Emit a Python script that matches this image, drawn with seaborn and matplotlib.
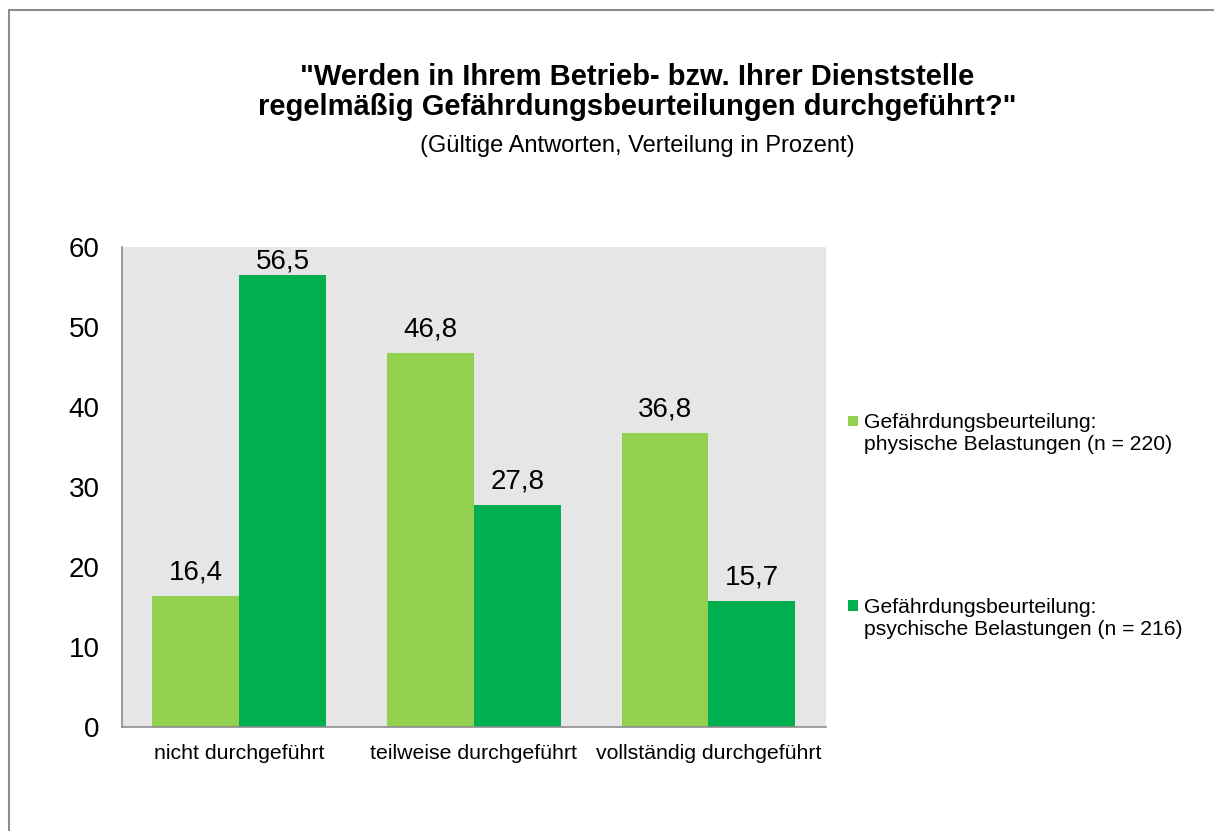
import matplotlib

matplotlib.use("Agg")
import matplotlib.pyplot as plt
import pandas as pd
import seaborn as sns
from matplotlib.legend_handler import HandlerPatch
from matplotlib.lines import Line2D
from matplotlib.patches import Patch, Rectangle

categories = ["nicht durchgeführt", "teilweise durchgeführt", "vollständig durchgeführt"]
series_names = [
    "Gefährdungsbeurteilung:\nphysische Belastungen (n = 220)",
    "Gefährdungsbeurteilung:\npsychische Belastungen (n = 216)",
]
physisch = [16.4, 46.8, 36.8]
psychisch = [56.5, 27.8, 15.7]
y_ticks = [0, 10, 20, 30, 40, 50, 60]

COLORS = ["#92d050", "#00b050"]
BG = "#e6e6e6"
FRAME = "#8c8c8c"
Y_MAX = 60

sns.set_theme(style="white")
plt.rcParams["font.family"] = ["Liberation Sans", "DejaVu Sans"]
plt.rcParams["text.color"] = "black"
plt.rcParams["xtick.color"] = "black"
plt.rcParams["ytick.color"] = "black"


class TopSquare(HandlerPatch):
    # square sits next to the first line of a two-line label
    def create_artists(self, legend, orig_handle, xdescent, ydescent,
                       width, height, fontsize, trans):
        size = width
        y = -ydescent + height / 2 + 0.6 * fontsize - size / 2
        p = Rectangle((-xdescent, y), size, size,
                      facecolor=orig_handle.get_facecolor(),
                      edgecolor="none", transform=trans)
        return [p]


df = pd.DataFrame({
    "Kategorie": categories * 2,
    "Serie": [series_names[0]] * 3 + [series_names[1]] * 3,
    "Wert": physisch + psychisch,
})

fig = plt.figure(figsize=(12.14, 8.31), dpi=100)
ax = fig.add_axes([0.1005, 0.1252, 0.5795, 0.5776])

sns.barplot(
    data=df, x="Kategorie", y="Wert", hue="Serie",
    palette=COLORS, saturation=1, width=0.74, legend=False, ax=ax,
    edgecolor="none",
)

ax.set_facecolor(BG)
ax.set_ylim(0, Y_MAX)

# value labels, pushed down when they would leave the plot area (like Excel)
px_per_unit = ax.get_window_extent().height / Y_MAX
for cont in ax.containers:
    anns = ax.bar_label(
        cont,
        labels=[f"{b.get_height():.1f}".replace(".", ",") for b in cont],
        padding=7.5, fontsize=20, color="black",
    )
    for ann, b in zip(anns, cont):
        room = (Y_MAX - b.get_height()) * px_per_unit - 29
        pad = max(0.0, min(7.5, room * 0.72))
        ann.xyann = (0, pad)

ax.set_yticks(y_ticks)
ax.set_yticklabels([str(t) for t in y_ticks], fontsize=20)
ax.set_xlabel("")
ax.set_ylabel("")
ax.tick_params(axis="x", length=0, pad=12, labelsize=15.3)
ax.tick_params(axis="y", length=0, pad=16)
for side in ["top", "right"]:
    ax.spines[side].set_visible(False)
for side in ["left", "bottom"]:
    ax.spines[side].set_visible(True)
    ax.spines[side].set_color(FRAME)
    ax.spines[side].set_linewidth(1.2)

handles = [Patch(facecolor=c) for c in COLORS]
fig.legend(
    handles, series_names,
    loc="upper left", bbox_to_anchor=(0.6895, 0.5155),
    frameon=False, fontsize=15.2, borderpad=0,
    handlelength=0.5, handletextpad=0.3, labelspacing=6.8,
    handler_map={Patch: TopSquare()},
)

fig.text(0.525, 0.8614,
         "\"Werden in Ihrem Betrieb- bzw. Ihrer Dienststelle\n"
         "regelmäßig Gefährdungsbeurteilungen durchgeführt?\"",
         ha="center", va="baseline", fontsize=21, fontweight="bold",
         linespacing=1.1)
fig.text(0.525, 0.817, "(Gültige Antworten, Verteilung in Prozent)",
         ha="center", va="baseline", fontsize=17)

# chart frame (left and top edges visible)
x0 = 9 / 1214
y0 = 1 - 10 / 831
fig.add_artist(Line2D([x0, x0], [0, y0], transform=fig.transFigure,
                      color=FRAME, linewidth=1.5))
fig.add_artist(Line2D([x0, 1], [y0, y0], transform=fig.transFigure,
                      color=FRAME, linewidth=1.5))

fig.savefig("out.png", dpi=100)
